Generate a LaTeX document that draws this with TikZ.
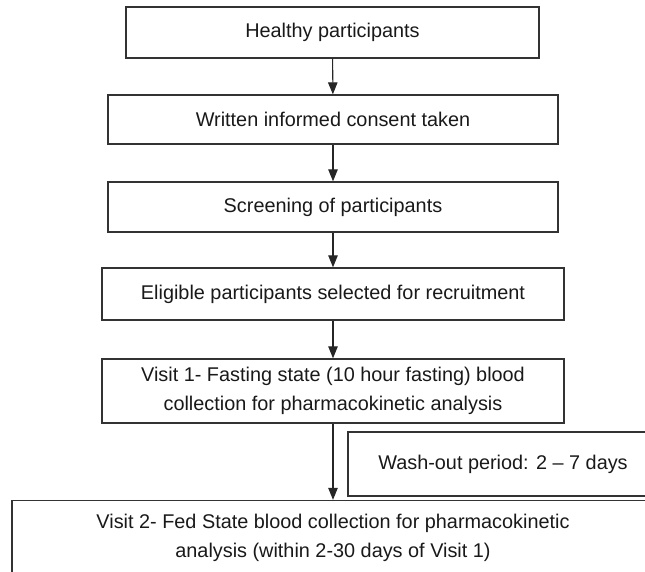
\documentclass[tikz,border=0pt]{standalone}
\usepackage{fontspec}
\setmainfont{Liberation Sans}
\usetikzlibrary{arrows.meta,positioning}

\begin{document}
\begin{tikzpicture}[
    x=0.02cm, y=-0.02cm,
    box/.style={draw=black!80, line width=0.8pt, inner sep=0pt, minimum height=1cm, align=center, text=black!90, font=\fontsize{11.3}{16.2}\selectfont},
    arr/.style={-{Triangle[length=0.24cm,width=0.19cm]}, line width=0.6pt, draw=black!85}
]
\useasboundingbox (0,0) rectangle (645,571);
\clip (0,0) rectangle (645,571);
\node[box, minimum width=8.26cm, minimum height=1.02cm] (healthy) at (332.5,32.5) {Healthy participants};
\node[box, minimum width=9cm, minimum height=0.98cm] (consent) at (333,119.5) {Written informed consent taken};
\node[box, minimum width=9cm] (screen) at (333,207) {Screening of participants};
\node[box, minimum width=9.24cm, minimum height=1.04cm] (eligible) at (333,294) {Eligible participants selected for recruitment};
\node[box, minimum width=9.24cm, minimum height=1.28cm] (visit1) at (333,391) {Visit 1- Fasting state (10 hour fasting) blood\\collection for pharmacokinetic analysis};
\node[box, minimum width=6.2cm, minimum height=1.28cm] (washout) at (503,464) {Wash-out period: 2 -- 7 days};
\node[box, minimum width=12.84cm, minimum height=1.5cm] (visit2) at (333,538) {Visit 2- Fed State blood collection for pharmacokinetic\\analysis (within 2-30 days of Visit 1)};

\draw[arr] (healthy) -- (consent);
\draw[arr] (consent) -- (screen);
\draw[arr] (screen) -- (eligible);
\draw[arr] (eligible) -- (visit1);
\draw[arr] (visit1) -- (visit2);
\end{tikzpicture}
\end{document}
